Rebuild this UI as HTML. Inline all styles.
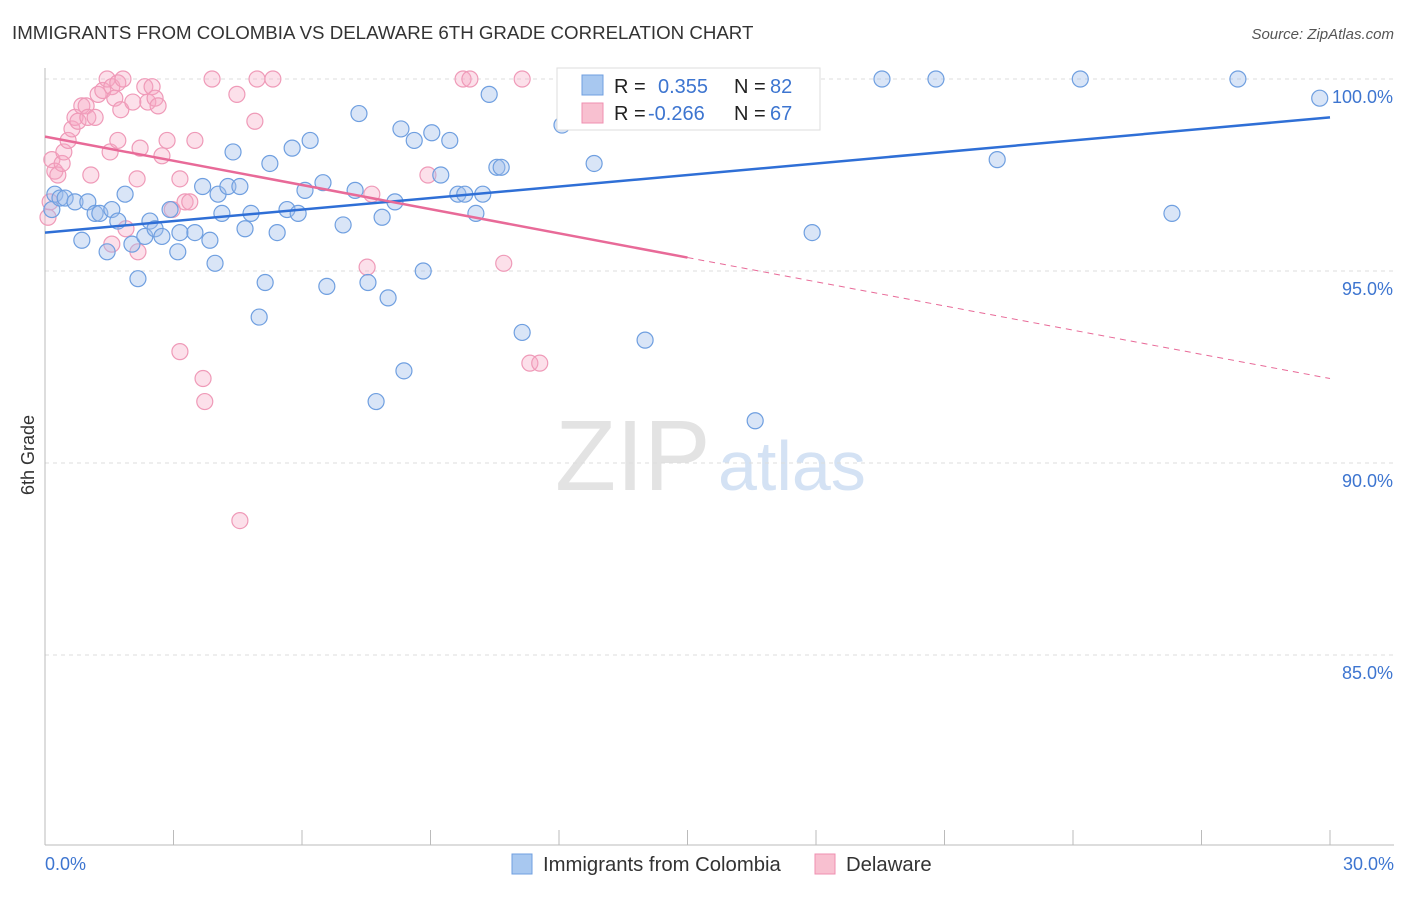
<!DOCTYPE html>
<html><head><meta charset="utf-8"><style>
body{margin:0;background:#fff;font-family:"Liberation Sans",sans-serif;}
svg text{font-family:"Liberation Sans",sans-serif;}
</style></head><body>
<svg id="chart" width="1406" height="892" viewBox="0 0 1406 892">
<text x="12" y="39" font-size="18.7" fill="#333">IMMIGRANTS FROM COLOMBIA VS DELAWARE 6TH GRADE CORRELATION CHART</text>
<text x="1394" y="39" font-size="15" fill="#555" font-style="italic" text-anchor="end">Source: ZipAtlas.com</text>
<text x="555" y="490" font-size="100" fill="#e3e3e3" font-family="Liberation Serif">ZIP</text>
<text x="718" y="490" font-size="70" fill="#d4e2f4">atlas</text>
<g id="grid"></g>
<g id="axes"></g>
<g id="points"></g>
<g id="trends"></g>
<text x="34" y="455" font-size="18" fill="#333" text-anchor="middle" transform="rotate(-90 34 455)">6th Grade</text>
<g>
<rect x="557" y="68" width="263" height="62" fill="#fff" stroke="#ddd"/>
<rect x="582" y="75" width="21" height="20" fill="#a8c8f0" stroke="#6f9fe0"/>
<rect x="582" y="103" width="21" height="20" fill="#f8c0d0" stroke="#ef8fb0"/>
<text x="614" y="93" font-size="20" fill="#222">R = </text><text x="658" y="93" font-size="20" fill="#3d75d0">0.355</text>
<text x="734" y="93" font-size="20" fill="#222">N = </text><text x="770" y="93" font-size="20" fill="#3d75d0">82</text>
<text x="614" y="120" font-size="20" fill="#222">R = </text><text x="648" y="120" font-size="20" fill="#3d75d0">-0.266</text>
<text x="734" y="120" font-size="20" fill="#222">N = </text><text x="770" y="120" font-size="20" fill="#3d75d0">67</text>
</g>
<g>
<rect x="512" y="854" width="20" height="20" fill="#a8c8f0" stroke="#6f9fe0"/>
<text x="543" y="871" font-size="20.3" fill="#333">Immigrants from Colombia</text>
<rect x="815" y="854" width="20" height="20" fill="#f8c0d0" stroke="#ef8fb0"/>
<text x="846" y="871" font-size="20.3" fill="#333">Delaware</text>
</g>
</svg>
<script>
const yTicks=[100,95,90,85];
const xTickLabels=["0.0%","30.0%"];
const blueX=[0.16,0.23,0.35,0.47,0.7,0.86,1.0,1.17,1.28,1.45,1.56,1.7,1.87,2.03,2.17,2.33,2.45,2.57,2.73,2.92,3.15,3.1,3.5,3.68,3.85,3.97,4.04,4.13,4.27,4.39,4.55,4.67,4.81,5.0,5.14,5.25,5.42,5.65,5.77,5.91,6.07,6.19,6.49,6.58,6.96,7.24,7.33,7.54,7.73,7.87,8.01,8.17,8.31,8.38,8.62,8.83,9.03,9.24,9.45,9.64,9.8,10.06,10.22,10.37,10.55,10.65,11.14,12.07,12.82,13.82,14.01,16.58,17.91,19.54,20.8,22.23,24.17,26.31,27.85,29.76];
const blueY=[96.6,97.0,96.9,96.9,96.8,95.8,96.8,96.5,96.5,95.5,96.6,96.3,97.0,95.7,94.8,95.9,96.3,96.1,95.9,96.6,96.0,95.5,96.0,97.2,95.8,95.2,97.0,96.5,97.2,98.1,97.2,96.1,96.5,93.8,94.7,97.8,96.0,96.6,98.2,96.5,97.1,98.4,97.3,94.6,96.2,97.1,99.1,94.7,91.6,96.4,94.3,96.8,98.7,92.4,98.4,95.0,98.6,97.5,98.4,97.0,97.0,96.5,97.0,99.6,97.7,97.7,93.4,98.8,97.8,100.0,93.2,91.1,96.0,100.0,100.0,97.9,100.0,96.5,100.0,99.5];
const pinkX=[0.07,0.12,0.16,0.23,0.3,0.4,0.44,0.54,0.63,0.7,0.77,0.86,0.96,1.0,1.07,1.17,1.24,1.35,1.45,1.52,1.56,1.63,1.7,1.7,1.77,1.82,1.89,1.56,2.05,2.15,2.22,2.17,2.33,2.4,2.5,2.57,2.64,2.73,2.85,2.97,3.15,3.27,3.38,3.15,3.5,3.69,3.73,3.9,4.48,4.55,4.9,4.95,5.32,7.52,7.63,8.94,9.76,9.92,10.71,11.14,11.32,11.55];
const pinkY=[96.4,96.8,97.9,97.6,97.5,97.8,98.1,98.4,98.7,99.0,98.9,99.3,99.3,99.0,97.5,99.0,99.6,99.7,100.0,98.1,99.8,99.5,99.9,98.4,99.2,100.0,96.1,95.7,99.4,97.4,98.2,95.5,99.8,99.4,99.8,99.5,99.3,98.0,98.4,96.6,97.4,96.8,96.8,92.9,98.4,92.2,91.6,100.0,99.6,88.5,98.9,100.0,100.0,95.1,97.0,97.5,100.0,100.0,95.2,100.0,92.6,92.6];
const blueTrend=[96.0,99.0];
const pinkTrend=[98.5,92.2];
const pinkSolidEnd=15;

const X0=45,X1=1330,Y100=79,PX=38.4;
const xs=v=>X0+v/30*(X1-X0);
const ys=v=>Y100+(100-v)*PX;
const NS="http://www.w3.org/2000/svg";
function mk(tag,attrs,parent){const e=document.createElementNS(NS,tag);for(const k in attrs)e.setAttribute(k,attrs[k]);document.getElementById(parent).appendChild(e);return e;}

yTicks.forEach(t=>{
  const l=mk('line',{x1:X0,x2:1394,y1:ys(t),y2:ys(t),stroke:'#ddd','stroke-dasharray':'4,4'},'grid');
  
  
  const tx=mk('text',{x:1393,y:ys(t)+24,'font-size':18,fill:'#3d75d0','text-anchor':'end'},'grid');
  tx.textContent=t.toFixed(1)+'%';
  
  
});
let a=mk('line',{x1:X0,x2:X0,y1:68,y2:845,stroke:'#bbb'},'axes');


a=mk('line',{x1:X0,x2:1394,y1:845,y2:845,stroke:'#bbb'},'axes');


for(let i=0;i<=10;i++){
  const t=mk('line',{x1:xs(i*3),x2:xs(i*3),y1:830,y2:845,stroke:'#bbb'},'axes');
  
  
}
let tl=mk('text',{x:45,y:870,'font-size':18,fill:'#3d75d0'},'axes');tl.textContent=xTickLabels[0];


tl=mk('text',{x:1394,y:870,'font-size':18,fill:'#3d75d0','text-anchor':'end'},'axes');tl.textContent=xTickLabels[1];



pinkX.forEach((x,i)=>{
  const c=mk('circle',{cx:xs(x),cy:ys(pinkY[i]),r:8,fill:'rgba(245,165,195,0.35)',stroke:'#ef9ab8','stroke-width':1.2},'points');
  
  
});
blueX.forEach((x,i)=>{
  const c=mk('circle',{cx:xs(x),cy:ys(blueY[i]),r:8,fill:'rgba(160,190,235,0.4)',stroke:'#6f9fe0','stroke-width':1.2},'points');
  
  
});
let t=mk('line',{x1:xs(0),y1:ys(blueTrend[0]),x2:xs(30),y2:ys(blueTrend[1]),stroke:'#2f6fd6','stroke-width':2.5},'trends');


const pm=pinkTrend[0]+(pinkTrend[1]-pinkTrend[0])*pinkSolidEnd/30;
t=mk('line',{x1:xs(0),y1:ys(pinkTrend[0]),x2:xs(pinkSolidEnd),y2:ys(pm),stroke:'#e86a98','stroke-width':2.5},'trends');


t=mk('line',{x1:xs(pinkSolidEnd),y1:ys(pm),x2:xs(30),y2:ys(pinkTrend[1]),stroke:'#e86a98','stroke-width':1,'stroke-dasharray':'6,5'},'trends');


</script>
</body></html>
